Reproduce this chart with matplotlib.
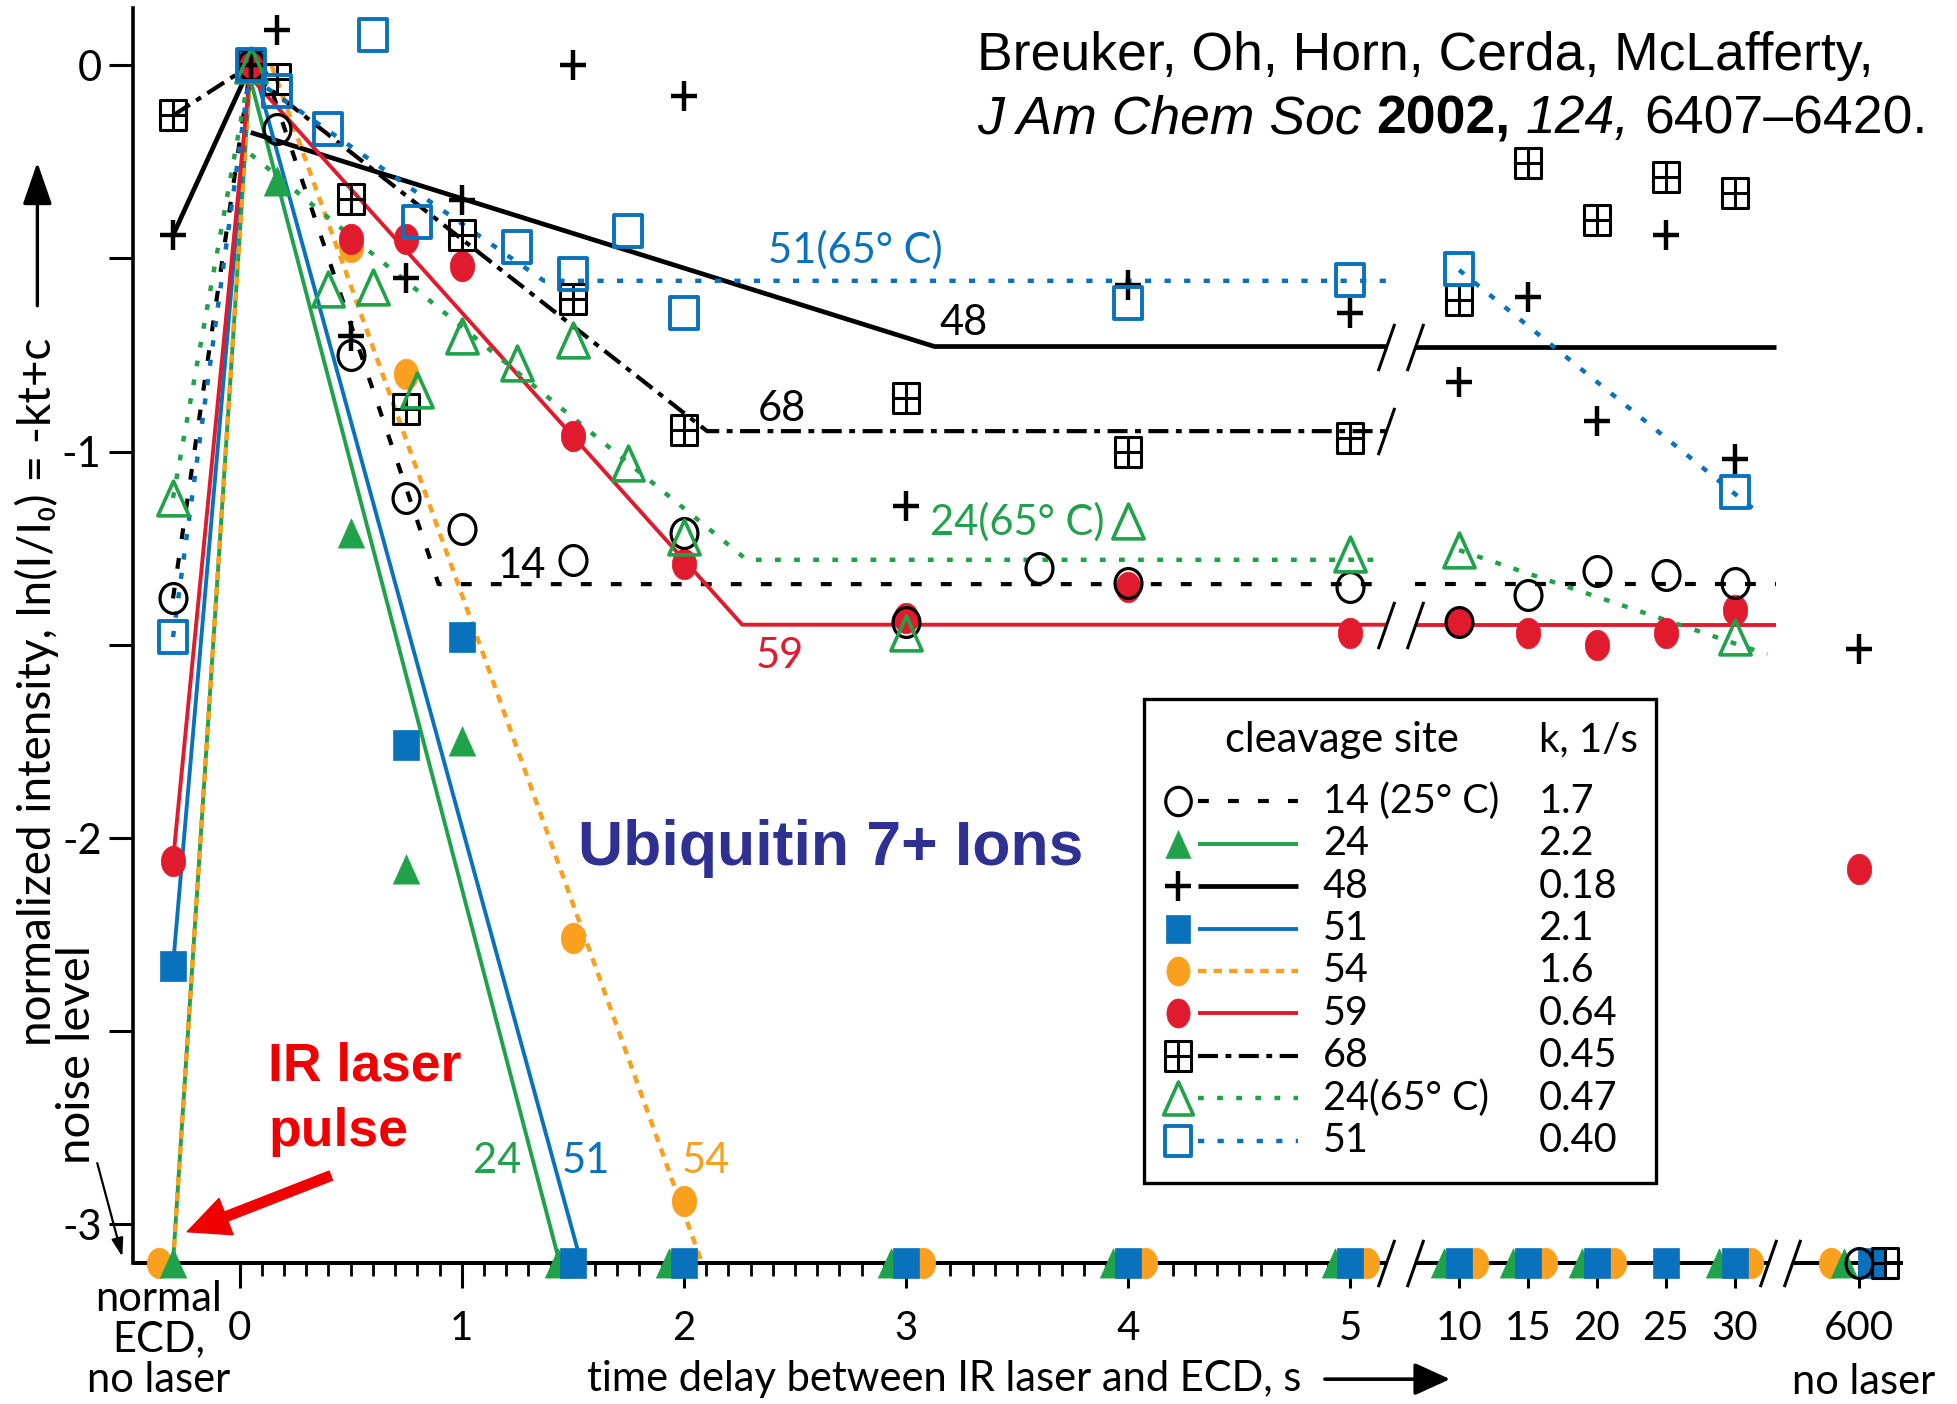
import numpy as np
import matplotlib
matplotlib.use("Agg")
import matplotlib.pyplot as plt
from matplotlib.path import Path
from matplotlib.ticker import FixedLocator, FixedFormatter
from matplotlib.transforms import ScaledTranslation
from matplotlib.patches import Rectangle

TEXT_FONT = ['Lato', 'DejaVu Sans']
plt.rcParams['font.family'] = TEXT_FONT
plt.rcParams['axes.unicode_minus'] = False

# ------------------------------------------------------------------ data
T_NORMAL = -0.3      # "normal ECD, no laser" column
T_FIRST = 0.05       # first delay after the IR pulse
NOISE = -3.1         # noise level of ln(I/I0)

x_ticks = [0, 1, 2, 3, 4, 5, 10, 15, 20, 25, 30, 600]
x_tick_labels = ['0', '1', '2', '3', '4', '5', '10', '15', '20', '25', '30', '600']
y_ticks = [0, -0.5, -1, -1.5, -2, -2.5, -3]
y_tick_labels = ['0', '', '-1', '', '-2', '', '-3']

sites = ['14 (25° C)', '24', '48', '51', '54', '59', '68', '24(65° C)', '51']
k_values = [1.7, 2.2, 0.18, 2.1, 1.6, 0.64, 0.45, 0.47, 0.40]

# cleavage site 14, 25 C
t_14 = [T_NORMAL, 0.05, 0.17, 0.5, 0.75, 1.0, 1.5, 2.0, 3.0, 3.6, 4.0, 5, 10, 15, 20, 25, 30, 600]
y_14 = [-1.38, 0.0, -0.165, -0.75, -1.12, -1.20, -1.28, -1.21, -1.44, -1.30, -1.34, -1.35,
        -1.44, -1.37, -1.31, -1.32, -1.34, NOISE]
# site 24
t_24 = [T_NORMAL, 0.05, 0.17, 0.5, 0.75, 1.0, 1.5, 2.0, 3.0, 4.0, 5, 10, 15, 20, 30, 600]
y_24 = [NOISE, 0.0, -0.30, -1.21, -2.08, -1.75, NOISE, NOISE, NOISE, NOISE, NOISE,
        NOISE, NOISE, NOISE, NOISE, NOISE]
# site 48
t_48 = [T_NORMAL, 0.05, 0.17, 0.5, 0.75, 1.0, 1.5, 2.0, 3.0, 4.0, 5, 10, 15, 20, 25, 30, 600]
y_48 = [-0.44, 0.0, 0.09, -0.70, -0.55, -0.35, 0.0, -0.08, -1.14, -0.57, -0.64,
        -0.82, -0.60, -0.92, -0.44, -1.02, -1.51]
# site 51
t_51 = [T_NORMAL, 0.05, 0.75, 1.0, 1.5, 2.0, 3.0, 4.0, 5, 10, 15, 20, 25, 30, 600]
y_51 = [-2.33, 0.0, -1.76, -1.48, NOISE, NOISE, NOISE, NOISE, NOISE,
        NOISE, NOISE, NOISE, NOISE, NOISE, NOISE]
# site 54
t_54 = [T_NORMAL, 0.05, 0.5, 0.75, 1.5, 2.0, 3.0, 4.0, 5, 10, 15, 20, 30, 600]
y_54 = [NOISE, 0.0, -0.47, -0.80, -2.26, -2.94, NOISE, NOISE, NOISE,
        NOISE, NOISE, NOISE, NOISE, NOISE]
# site 59
t_59 = [T_NORMAL, 0.05, 0.5, 0.75, 1.0, 1.5, 2.0, 3.0, 4.0, 5, 10, 15, 20, 25, 30, 600]
y_59 = [-2.06, 0.0, -0.45, -0.45, -0.52, -0.96, -1.29, -1.43, -1.35, -1.47,
        -1.44, -1.47, -1.50, -1.47, -1.41, -2.08]
# site 68
t_68 = [T_NORMAL, 0.05, 0.17, 0.5, 0.75, 1.0, 1.5, 2.0, 3.0, 4.0, 5, 10, 15, 20, 25, 30, 600]
y_68 = [-0.13, 0.0, -0.035, -0.345, -0.89, -0.44, -0.605, -0.945, -0.86, -1.0, -0.965,
        -0.607, -0.254, -0.40, -0.289, -0.33, NOISE]
# site 24, 65 C
t_24h = [T_NORMAL, 0.05, 0.4, 0.6, 0.8, 1.0, 1.25, 1.5, 1.75, 2.0, 3.0, 4.0, 5, 10, 30]
y_24h = [-1.12, 0.0, -0.58, -0.575, -0.84, -0.70, -0.77, -0.71, -1.03, -1.22,
         -1.47, -1.18, -1.265, -1.255, -1.48]
# site 51, 65 C
t_51h = [T_NORMAL, 0.05, 0.17, 0.4, 0.6, 0.8, 1.25, 1.5, 1.75, 2.0, 4.0, 5, 10, 30]
y_51h = [-1.48, 0.0, -0.066, -0.164, 0.078, -0.407, -0.47, -0.54, -0.428, -0.64,
         -0.615, -0.555, -0.527, -1.105]

# first-order fits ln(I/I0) = -k t + c, levelling off at a plateau
fit_c = [0.18, 0.07, -0.165, 0.13, 0.23, 0.0, 0.0, -0.207, -0.01]
fit_plateau = [-1.343, NOISE, -0.728, NOISE, NOISE, -1.448, -0.947, -1.28, -0.558]
# long-delay trend lines of the 65 C runs
late_24h_t = [10, 180]
late_24h_y = [-1.255, -1.525]
late_51h_t = [10, 120]
late_51h_y = [-0.53, -1.15]

# ------------------------------------------------------------------ broken time axis
T_KNOTS = [-2.0, 5.0, 10.0, 30.0, 600.0, 1000.0]
P_KNOTS = [-2.0, 5.0, 5.49, 6.73, 7.29, 7.69]


def t2pos(t):
    return np.interp(t, T_KNOTS, P_KNOTS)


def pos2t(p):
    return np.interp(p, P_KNOTS, T_KNOTS)


BREAK_A = (5.16, 5.29)        # axis gap between 5 and 10 s
BREAK_B = (6.88, 6.99)        # axis gap between 30 and 600 s
PLATEAU_END = 6.915

# ------------------------------------------------------------------ markers


def oval(aspect):
    c = Path.unit_circle()
    return Path(c.vertices * [aspect, 1.0], c.codes)


A = 0.88
M_RING = oval(0.9)
M_DOT = oval(0.8)
M_SQUARE = Path([(-A, -1), (A, -1), (A, 1), (-A, 1), (-A, -1)], [1, 2, 2, 2, 79])
M_TRI = Path([(0, 1), (-0.9, -1), (0.9, -1), (0, 1)], [1, 2, 2, 79])
M_PLUS = Path([(-A, 0), (A, 0), (0, -1), (0, 1)], [1, 2, 1, 2])
M_GRID = Path([(-A, -1), (A, -1), (A, 1), (-A, 1), (-A, -1), (0, -1), (0, 1), (-A, 0), (A, 0)],
              [1, 2, 2, 2, 79, 1, 2, 1, 2])
M_SLASH = Path([(-0.35, -1), (0.35, 1)], [1, 2])

GREEN = '#20a24a'
BLUE = '#0a72bd'
ORANGE = '#f9a11e'
RED = '#e01b2e'

STYLES = [
    dict(color='black', marker=M_RING, ms=21.5, mfc='none', mew=2.3, ls=(0, (2.6, 4.6)), lw=3.0),
    dict(color=GREEN, marker=M_TRI, ms=21, mfc=GREEN, mew=0.5, ls='-', lw=2.8),
    dict(color='black', marker=M_PLUS, ms=22, mfc='none', mew=3.2, ls='-', lw=3.4),
    dict(color=BLUE, marker=M_SQUARE, ms=21, mfc=BLUE, mew=0.5, ls='-', lw=2.8),
    dict(color=ORANGE, marker=M_DOT, ms=22, mfc=ORANGE, mew=0.5, ls=(0, (1.9, 1.6)), lw=3.2),
    dict(color=RED, marker=M_DOT, ms=22, mfc=RED, mew=0.5, ls='-', lw=2.8),
    dict(color='black', marker=M_GRID, ms=22, mfc='none', mew=2.2, ls=(0, (4.8, 1.8, 1.4, 1.8)), lw=3.0),
    dict(color=GREEN, marker=M_TRI, ms=25, mfc='none', mew=2.6, ls=(0, (1.3, 3.0)), lw=3.2),
    dict(color=BLUE, marker=M_SQUARE, ms=22.5, mfc='none', mew=2.8, ls=(0, (1.4, 3.0)), lw=3.2),
]
# sideways shift (points) of overlapping markers at the noise level
DODGE = [
    {},
    {'noise': -11, 'far': -11},
    {},
    {'far': 9},
    {'noise': 12, 'normal': -10, 'far': -20},
    {},
    {'far': 19},
    {},
    {},
]
MARKER_Z = [6, 4, 6, 5, 3, 5, 6, 6, 6]

series_t = [t_14, t_24, t_48, t_51, t_54, t_59, t_68, t_24h, t_51h]
series_y = [y_14, y_24, y_48, y_51, y_54, y_59, y_68, y_24h, y_51h]

# ------------------------------------------------------------------ figure
fig = plt.figure(figsize=(19.57, 14.04), dpi=100)
ax = fig.add_axes([0.0682, 0.1004, 0.9043, 0.8936])
ax.set_xscale('function', functions=(t2pos, pos2t))
ax.set_xlim(pos2t(-0.478), pos2t(7.489))
ax.set_ylim(NOISE, 0.147)

for side in ('top', 'right', 'bottom'):
    ax.spines[side].set_visible(False)
ax.spines['left'].set_linewidth(2.6)


def line_kw(st):
    return dict(color=st['color'], ls=st['ls'], lw=st['lw'])


def draw_fit(i):
    st = STYLES[i]
    t, y = series_t[i], series_y[i]
    k, c, plat = k_values[i], fit_c[i], fit_plateau[i]
    # normal ECD -> first delay
    ax.plot([t[0], t[1]], [y[0], y[1]], zorder=2, clip_on=False, **line_kw(st))
    t_start, y_start = T_FIRST, c - k * T_FIRST
    if y_start > 0:
        t_start, y_start = c / k, 0.0
    t_end = (c - plat) / k
    xs = [t_start, t_end]
    ys = [y_start, plat]
    if plat != NOISE:
        xs.append(pos2t(BREAK_A[0]))
        ys.append(plat)
    ax.plot(xs, ys, zorder=2, clip_on=False, solid_capstyle='butt', **line_kw(st))


def draw_markers(i):
    st = STYLES[i]
    groups = {}
    for ti, yi in zip(series_t[i], series_y[i]):
        if ti == T_NORMAL:
            key = 'normal'
        elif ti == 600:
            key = 'far'
        elif yi == NOISE:
            key = 'noise'
        else:
            key = None
        dx = DODGE[i].get(key, 0)
        groups.setdefault(dx, ([], []))
        groups[dx][0].append(ti)
        groups[dx][1].append(yi)
    for dx, (gt, gy) in groups.items():
        tr = ax.transData + ScaledTranslation(dx / 72.0, 0, fig.dpi_scale_trans)
        ax.plot(gt, gy, ls='none', marker=st['marker'], ms=st['ms'], mfc=st['mfc'],
                mec=st['color'], mew=st['mew'], transform=tr, clip_on=False, zorder=MARKER_Z[i])


for i in range(len(sites)):
    draw_fit(i)

# plateaus continued beyond the first axis break (sites 14, 48, 59)
for i in (0, 2, 5):
    ax.plot([pos2t(BREAK_A[1]), pos2t(PLATEAU_END)], [fit_plateau[i]] * 2, zorder=2,
            solid_capstyle='butt', **line_kw(STYLES[i]))
ax.plot(late_24h_t, late_24h_y, zorder=2, **line_kw(STYLES[7]))
ax.plot(late_51h_t, late_51h_y, zorder=2, **line_kw(STYLES[8]))

for i in range(len(sites)):
    draw_markers(i)


def slash(t, y, **kw):
    ax.plot([t], [y], ls='none', marker=M_SLASH, ms=34, mec='black', mew=2.2,
            clip_on=False, zorder=7, **kw)


# bottom axis with its two breaks
seg_bounds = [(-0.478, BREAK_A[0]), (BREAK_A[1], BREAK_B[0]), (BREAK_B[1], 7.489)]
for p0, p1 in seg_bounds:
    ax.plot([pos2t(p0), pos2t(p1)], [NOISE, NOISE], color='black', lw=2.9,
            clip_on=False, zorder=2.5, solid_capstyle='butt')
for p in BREAK_A + BREAK_B:
    slash(pos2t(p), NOISE)
# break marks on the plateau lines
for p in BREAK_A:
    slash(pos2t(p), fit_plateau[2])
    slash(pos2t(p), fit_plateau[5])
slash(pos2t(BREAK_A[0]), fit_plateau[6])

# ticks
ax.xaxis.set_major_locator(FixedLocator(x_ticks))
ax.xaxis.set_major_formatter(FixedFormatter(x_tick_labels))
ax.xaxis.set_minor_locator(FixedLocator([i / 10 for i in range(1, 50) if i % 10]))
ax.yaxis.set_major_locator(FixedLocator(y_ticks))
ax.yaxis.set_major_formatter(FixedFormatter(y_tick_labels))
ax.tick_params(axis='x', which='major', direction='out', length=18, width=2.2, pad=16, labelsize=29)
ax.tick_params(axis='x', which='minor', direction='out', length=9.5, width=2.0)
ax.tick_params(axis='y', which='major', direction='out', length=17, width=2.2, pad=6, labelsize=30)

# line labels
line_labels = [
    ('51(65° C)', 2.77, -0.479, BLUE),
    ('48', 3.26, -0.667, 'black'),
    ('68', 2.44, -0.89, 'black'),
    ('24(65° C)', 3.50, -1.181, GREEN),
    ('14', 1.27, -1.295, 'black'),
    ('59', 2.43, -1.53, RED),
    ('24', 1.16, -2.835, GREEN),
    ('51', 1.56, -2.835, BLUE),
    ('54', 2.10, -2.835, ORANGE),
]
for txt, lx, ly, col in line_labels:
    ax.text(lx, ly, txt, color=col, fontsize=30, ha='center', va='center', zorder=8)

# legend table
box = Rectangle((0.5712, 0.0637), 0.2892, 0.3859, transform=ax.transAxes, fc='white',
                ec='black', lw=2.4, zorder=20, clip_on=False)
ax.add_patch(box)
ax.text(0.6827, 0.4168, 'cleavage site', transform=ax.transAxes, fontsize=30,
        ha='center', va='center', zorder=21)
ax.text(0.794, 0.4168, 'k, 1/s', transform=ax.transAxes, fontsize=29,
        ha='left', va='center', zorder=21)
for i, (site, k) in enumerate(zip(sites, k_values)):
    st = STYLES[i]
    ry = 0.368 - i * 0.0338
    ax.plot([0.6016, 0.658], [ry, ry], transform=ax.transAxes, clip_on=False, zorder=21,
            solid_capstyle='butt', **line_kw(st))
    ax.plot([0.5905], [ry], transform=ax.transAxes, ls='none', marker=st['marker'],
            ms=st['ms'] * 0.95, mfc=st['mfc'], mec=st['color'], mew=st['mew'],
            clip_on=False, zorder=21)
    ax.text(0.672, ry, site, transform=ax.transAxes, fontsize=28.5, ha='left',
            va='center', zorder=21)
    k_txt = f'{k:.2f}' if k < 1 else f'{k:.1f}'
    ax.text(0.794, ry, k_txt, transform=ax.transAxes, fontsize=28.5, ha='left',
            va='center', zorder=21)

# axis titles and notes
fig.text(0.0191, 0.5076, 'normalized intensity, ln(I/I₀) = -kt+c', rotation=90,
         fontsize=33, ha='center', va='center')
ax.annotate('', xy=(0.0191, 0.8844), xytext=(0.0191, 0.7822), xycoords='figure fraction',
            textcoords='figure fraction',
            arrowprops=dict(arrowstyle='-|>,head_length=26,head_width=9', mutation_scale=1,
                            lw=2.4, color='black', shrinkA=0, shrinkB=0))
fig.text(0.0395, 0.2489, 'noise level', rotation=90, fontsize=34, ha='center', va='center')
ax.annotate('', xy=(0.0625, 0.1049), xytext=(0.0497, 0.1716), xycoords='figure fraction',
            textcoords='figure fraction',
            arrowprops=dict(arrowstyle='-|>,head_length=11,head_width=3.5', mutation_scale=1,
                            lw=1.6, color='black', shrinkA=0, shrinkB=0))
fig.text(0.081, 0.0462, 'normal\nECD,\nno laser', fontsize=30, ha='center', va='center',
         linespacing=1.08)
fig.text(0.9521, 0.016, 'no laser', fontsize=30, ha='center', va='center')
fig.text(0.4827, 0.0177, 'time delay between IR laser and ECD, s', fontsize=30,
         ha='center', va='center')
ax.annotate('', xy=(0.741, 0.0177), xytext=(0.677, 0.0177), xycoords='figure fraction',
            textcoords='figure fraction',
            arrowprops=dict(arrowstyle='-|>,head_length=22,head_width=10', mutation_scale=1,
                            lw=2.6, color='black', shrinkA=0, shrinkB=0))

# panel title and IR pulse marker
fig.text(0.2953, 0.3839, 'Ubiquitin 7+ Ions', fontsize=45, fontweight='bold',
         color='#2e3192', family='Liberation Sans', ha='left', va='baseline')
fig.text(0.137, 0.2302, 'IR laser', fontsize=38.5, fontweight='bold', color='#f00000',
         family='Liberation Sans', ha='left', va='baseline')
fig.text(0.137, 0.184, 'pulse', fontsize=38.5, fontweight='bold', color='#f00000',
         family='Liberation Sans', ha='left', va='baseline')
ax.annotate('', xy=(-0.236, -3.019), xytext=(0.41, -2.874),
            arrowprops=dict(arrowstyle='simple,head_length=30,head_width=28,tail_width=7',
                            mutation_scale=1, color='#f00000', shrinkA=0, shrinkB=0),
            annotation_clip=False)

# citation: second line assembled from differently styled runs
CITE_SIZE = 38.5
fig.text(0.4993, 0.950, 'Breuker, Oh, Horn, Cerda, McLafferty,', fontsize=CITE_SIZE,
         family='Liberation Sans', ha='left', va='baseline')
renderer = fig.canvas.get_renderer()
space_px = 0.278 * CITE_SIZE * fig.dpi / 72.0
runs = [('J Am Chem Soc', dict(style='italic')),
        ('2002,', dict(weight='bold')),
        ('124,', dict(style='italic')),
        ('6407–6420.', dict())]
x_px = 0.4993 * fig.bbox.width
for txt, kw in runs:
    t = fig.text(x_px / fig.bbox.width, 0.905, txt, fontsize=CITE_SIZE, family='Liberation Sans',
                 ha='left', va='baseline', **kw)
    bb = t.get_window_extent(renderer=renderer)
    x_px = bb.x1 + space_px

fig.savefig('out.png', dpi=100)
